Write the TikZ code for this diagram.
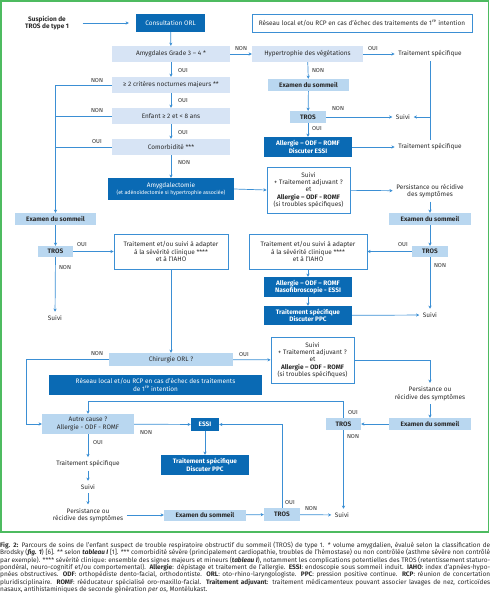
\documentclass[tikz,border=0pt]{standalone}
\usepackage{fontspec}
\setmainfont{Fira Sans}
\usetikzlibrary{arrows.meta}
\definecolor{deepblue}{HTML}{0A6AB4}
\definecolor{paleblue}{HTML}{D7E4F5}
\definecolor{skyblue}{HTML}{B9D7F0}
\definecolor{lineblue}{HTML}{3B8FD4}
\definecolor{framegreen}{HTML}{4DBB60}
\definecolor{textgray}{HTML}{2B2B2B}
\newcommand{\boxfont}{\fontsize{6.45}{7.4}\selectfont}

\begin{document}
\begin{tikzpicture}[x=1pt, y=-1pt, >={Stealth[length=3.2pt,width=3.2pt]},
	basebox/.style={inner sep=1pt, align=center, font=\boxfont, text=textgray},
	lightbox/.style={basebox, fill=paleblue},
	midbox/.style={basebox, fill=skyblue, font=\boxfont\bfseries},
	darkbox/.style={basebox, fill=deepblue, text=white},
	outbox/.style={basebox, draw=lineblue, line width=0.8pt, fill=white},
	plain/.style={basebox, inner sep=3.5pt},
	lbl/.style={font=\fontsize{5.8}{6.5}\selectfont, text=textgray, inner sep=0pt},
	flow/.style={draw=lineblue, line width=0.7pt, ->},
	link/.style={draw=lineblue, line width=0.7pt}]

	\useasboundingbox (0,0) rectangle (490,600);
	\draw[framegreen, line width=1.4pt] (1,1) rectangle (488.5,532);

	% top row
	\node[plain, font=\boxfont\bfseries] (susp) at (47,23) {Suspicion de\\TROS de type 1};
	\node[darkbox, minimum width=69pt, minimum height=18pt] (consult) at (170.5,23) {Consultation ORL};
	\node[outbox, minimum width=220pt, minimum height=18pt] (reseau1) at (362,23) {R\'eseau local et/ou RCP en cas d'\'echec des traitements de 1\textsuperscript{re} intention};

	% first decisions
	\node[lightbox, minimum width=118pt, minimum height=16pt] (amyg) at (171,54) {Amygdales Grade 3 -- 4 *};
	\node[lightbox, minimum width=111pt, minimum height=16pt] (hyper) at (307.5,54) {Hypertrophie des v\'eg\'etations};
	\node[plain] (ts1) at (430,54) {Traitement sp\'ecifique};
	\node[lightbox, minimum width=118pt, minimum height=16pt] (crit) at (171,85) {≥ 2 crit\`eres nocturnes majeurs **};
	\node[midbox, minimum width=81pt, minimum height=12pt] (exam1) at (308.5,85) {Examen du sommeil};
	\node[lightbox, minimum width=118pt, minimum height=16pt] (enfant) at (171,116) {Enfant ≥ 2 et < 8 ans};
	\node[midbox, minimum width=36pt, minimum height=12pt] (tros1) at (308,117) {TROS};
	\node[plain] (suivi1) at (403,117) {Suivi};
	\node[lightbox, minimum width=118pt, minimum height=16pt] (comor) at (171,147) {Comorbidit\'e ***};
	\node[darkbox, font=\boxfont\bfseries, minimum width=88pt, minimum height=20pt] (allerg1) at (308,147) {Allergie -- ODF -- ROMF\\Discuter ESSI};
	\node[plain] (ts2) at (430,147) {Traitement sp\'ecifique};

	% amygdalectomie branch
	\node[darkbox, minimum width=126pt, minimum height=22pt] (amygdal) at (171,189) {Amygdalectomie\\{\fontsize{5.3}{6.2}\selectfont (et ad\'eno\"idectomie si hypertrophie associ\'ee)}};
	\node[outbox, minimum width=83pt, minimum height=46pt] (suivibox1) at (308.5,190) {Suivi\\+ Traitement adjuvant ?\\et\\\textbf{Allergie -- ODF - ROMF}\\(si troubles sp\'ecifiques)};
	\node[plain] (persist1) at (430,191) {Persistance ou r\'ecidive\\des sympt\^omes};
	\node[midbox, minimum width=81pt, minimum height=12pt] (exam2) at (55.5,219) {Examen du sommeil};
	\node[midbox, minimum width=82pt, minimum height=12pt] (exam3) at (430,219) {Examen du sommeil};
	\node[midbox, minimum width=35pt, minimum height=11pt] (tros2) at (55.5,251.5) {TROS};
	\node[outbox, minimum width=114pt, minimum height=35pt] (trait1) at (171,251.5) {Traitement et/ou suivi \`a adapter\\\`a la s\'ev\'erit\'e clinique ****\\et \`a l'IAHO};
	\node[outbox, minimum width=118pt, minimum height=35pt] (trait2) at (308,251.5) {Traitement et/ou suivi \`a adapter\\\`a la s\'ev\'erit\'e clinique ****\\et \`a l'IAHO};
	\node[midbox, minimum width=36pt, minimum height=11pt] (tros3) at (430,251.5) {TROS};
	\node[darkbox, font=\boxfont\bfseries, minimum width=88pt, minimum height=20pt] (allerg2) at (308,287) {Allergie -- ODF -- ROMF\\Nasofibroscopie - ESSI};
	\node[darkbox, font=\boxfont\bfseries, minimum width=88pt, minimum height=19pt] (tsppc1) at (308,315.5) {Traitement sp\'ecifique\\Discuter PPC};
	\node[plain] (suivi2) at (55,318) {Suivi};
	\node[plain] (suivi3) at (430,315) {Suivi};

	% chirurgie branch
	\node[midbox, font=\boxfont, minimum width=124pt, minimum height=13pt] (chir) at (171,359.5) {Chirurgie ORL ?};
	\node[outbox, minimum width=83pt, minimum height=46pt] (suivibox2) at (312.5,360) {Suivi\\+ Traitement adjuvant ?\\et\\\textbf{Allergie -- ODF - ROMF}\\(si troubles sp\'ecifiques)};
	\node[darkbox, minimum width=213pt, minimum height=20pt] (reseau2) at (155.5,385) {R\'eseau local et/ou RCP en cas d'\'echec des traitements\\de 1\textsuperscript{re} intention};
	\node[plain] (persist2) at (430,393.5) {Persistance ou\\r\'ecidive des sympt\^omes};
	\node[midbox, font=\boxfont, minimum width=92pt, minimum height=20pt] (autre) at (88,424) {Autre cause ?\\Allergie - ODF - ROMF};
	\node[darkbox, font=\boxfont\bfseries, minimum width=28pt, minimum height=13pt] (essi) at (205,424.5) {ESSI};
	\node[midbox, minimum width=35pt, minimum height=12pt] (tros4) at (343.5,424) {TROS};
	\node[midbox, minimum width=82pt, minimum height=12pt] (exam4) at (430,424) {Examen du sommeil};
	\node[darkbox, font=\boxfont\bfseries, minimum width=88pt, minimum height=20pt] (tsppc2) at (205,465) {Traitement sp\'ecifique\\Discuter PPC};
	\node[plain] (ts3) at (88,464) {Traitement sp\'ecifique};
	\node[plain] (suivi4) at (88,487) {Suivi};
	\node[plain] (persist3) at (88,515) {Persistance ou\\r\'ecidive des sympt\^omes};
	\node[midbox, minimum width=82pt, minimum height=11pt] (exam5) at (205,515) {Examen du sommeil};
	\node[midbox, minimum width=36pt, minimum height=13pt] (tros5) at (282,514.5) {TROS};
	\node[plain] (suivi5) at (342,515) {Suivi};

	% connectors, top half
	\draw[flow, shorten <=10pt, shorten >=7pt] (susp) -- (consult);
	\draw[flow] (consult) -- (amyg);
	\draw[flow] (amyg) -- (hyper);
	\draw[flow] (hyper) -- (ts1);
	\draw[flow] (hyper) -- (exam1);
	\draw[flow] (exam1) -- (tros1);
	\draw[flow] (tros1) -- (suivi1);
	\draw[flow] (tros1) -- (allerg1);
	\draw[flow] (allerg1) -- (ts2);
	\draw[link] (ts1.south) -- (ts2.north);
	\draw[flow] (ts1.south |- suivi1.east) -- (suivi1.east);
	\draw[flow] (amyg) -- (crit);
	\draw[flow] (crit) -- (enfant);
	\draw[flow] (enfant) -- (comor);
	\draw[flow] (crit.west) -| (exam2.north);
	\draw[link] (enfant.west) -- (enfant.west -| exam2.north);
	\draw[link] (comor.west) -- (comor.west -| exam2.north);
	\draw[flow] (comor) -- (amygdal);
	\draw[flow] (amygdal.east) -- (suivibox1.west);
	\draw[flow] (suivibox1) -- (persist1);
	\draw[flow] (persist1) -- (exam3);
	\draw[flow] (exam3) -- (tros3);
	\draw[flow] (tros3) -- (trait2);
	\draw[flow] (tros3) -- (suivi3);
	\draw[flow] (trait2) -- (allerg2);
	\draw[flow] (allerg2) -- (tsppc1);
	\draw[flow] (tsppc1) -- (suivi3);
	\draw[flow] (exam2) -- (tros2);
	\draw[flow] (tros2) -- (trait1);
	\draw[flow] (tros2) -- (suivi2);
	\draw[flow] (trait1) -- (chir);

	% connectors, bottom half
	\draw[flow] (chir.west) -- ++(-82,0) |- (autre.west);
	\draw[flow] (chir) -- (suivibox2);
	\draw[flow] (suivibox2.east) -| (persist2.north);
	\draw[flow] (persist2) -- (exam4);
	\draw[flow] (exam4) -- (tros4);
	\draw[flow] (tros4.north) -- ++(0,-16) -| (autre.north);
	\draw[flow] (tros4.south) -- (tros4.south |- suivi5.north);
	\draw[flow] (autre) -- (essi);
	\draw[flow] (essi) -- (tsppc2);
	\draw[flow] (autre) -- (ts3);
	\draw[flow] (ts3) -- (suivi4);
	\draw[flow] (suivi4) -- (persist3);
	\draw[flow] (persist3.east) -- (exam5.west);
	\draw[flow] (exam5) -- (tros5);
	\draw[flow] (tros5) -- (suivi5);
	\draw[flow] (tros5.north) |- (essi.east);

	% OUI / NON
	\node[lbl] (l1) at (183,70) {OUI};
	\node[lbl] (l2) at (183,100.5) {OUI};
	\node[lbl] (l3) at (183,132) {OUI};
	\node[lbl] (l4) at (97,80) {NON};
	\node[lbl] (l5) at (97,110) {NON};
	\node[lbl] (l6) at (97,141) {OUI};
	\node[lbl] (l7) at (184,162) {NON};
	\node[lbl] (l8) at (241,48) {NON};
	\node[lbl] (l9) at (373,48) {OUI};
	\node[lbl] (l10) at (318,70) {NON};
	\node[lbl] (l11) at (338,108) {NON};
	\node[lbl] (l12) at (317,128) {OUI};
	\node[lbl] (l13) at (82,244) {OUI};
	\node[lbl] (l14) at (65,267) {NON};
	\node[lbl] (l15) at (403,244) {OUI};
	\node[lbl] (l16) at (440,265) {NON};
	\node[lbl] (l17) at (97,353) {NON};
	\node[lbl] (l18) at (244,354) {OUI};
	\node[lbl] (l19) at (146,432) {NON};
	\node[lbl] (l20) at (98,442) {OUI};
	\node[lbl] (l21) at (353,412) {OUI};
	\node[lbl] (l22) at (353,436) {NON};
	\node[lbl] (l23) at (290,502) {OUI};
	\node[lbl] (l24) at (311,508) {NON};

	% legend
	\node[anchor=north west, inner sep=0pt, text width=490pt, align=justify, text=textgray,
		font=\fontsize{6.5}{7.3}\selectfont] (legend) at (0,542) {%
		\textbf{Fig. 2:} Parcours de soins de l'enfant suspect de trouble respiratoire obstructif du sommeil (TROS) de type 1. * volume amygdalien, \'evalu\'e selon la classification de\linebreak
		Brodsky (\textbf{\textit{fig. 1}}) [6]. ** selon \textbf{\textit{tableau I}} [1]. *** comorbidit\'e s\'ev\`ere (principalement cardiopathie, troubles de l'h\'emostase) ou non contr\^ol\'ee (asthme s\'ev\`ere non contr\^ol\'e\linebreak
		par exemple). **** s\'ev\'erit\'e clinique: ensemble des signes majeurs et mineurs (\textbf{\textit{tableau I}}), notamment les complications potentielles des TROS (retentissement staturo-\linebreak
		pond\'eral, neuro-cognitif et/ou comportemental). \textbf{Allergie}: d\'epistage et traitement de l'allergie. \textbf{ESSI}: endoscopie sous sommeil induit. \textbf{IAHO}: index d'apn\'ees-hypo-\linebreak
		pn\'ees obstructives. \textbf{ODF}: orthop\'ediste dento-facial, orthodontiste. \textbf{ORL}: oto-rhino-laryngologiste. \textbf{PPC}: pression positive continue. \textbf{RCP}: r\'eunion de concertation\linebreak
		pluridisciplinaire. \textbf{ROMF}: r\'e\'educateur sp\'ecialis\'e oro-maxillo-facial. \textbf{Traitement adjuvant}: traitement m\'edicamenteux pouvant associer lavages de nez, cortico\"ides\linebreak
		nasaux, antihistaminiques de seconde g\'en\'eration \textit{per os}, Mont\'elukast.};

\end{tikzpicture}
\end{document}
